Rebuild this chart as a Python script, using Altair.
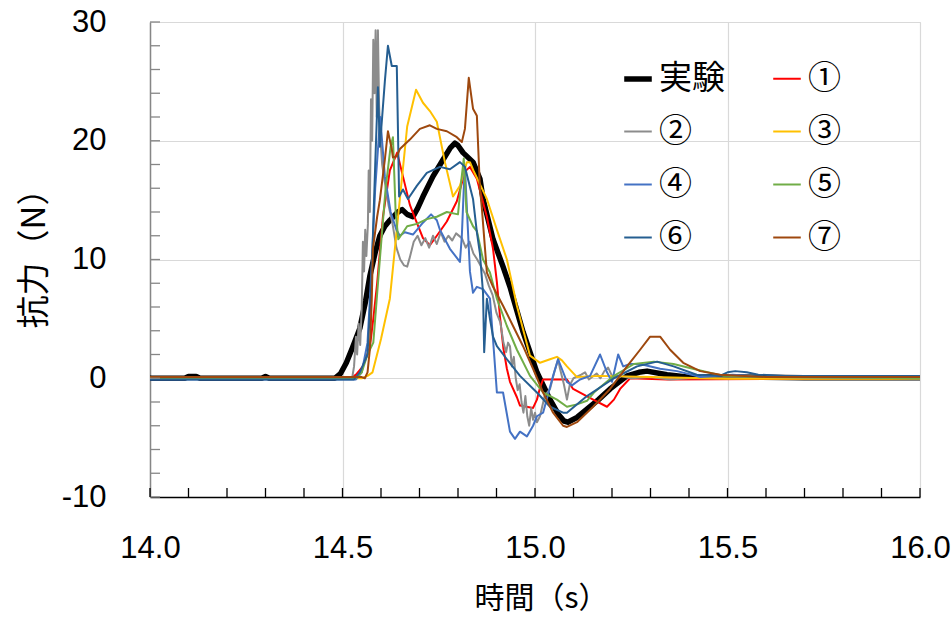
import altair as alt
import pandas as pd

# ---- series data: time (s) and drag force (N) ----
NAMES = ["実験", "①", "②", "③", "④", "⑤", "⑥", "⑦"]
COLORS = ["#000000", "#FF0000", "#8C8C8C", "#FFC000", "#4472C4", "#70AD47", "#255E91", "#9E480E"]
WIDTHS = [5.5, 2, 2, 2, 2, 2, 2, 2]

T_EXP = [14.00, 14.09, 14.10, 14.12, 14.13, 14.29, 14.30, 14.31, 14.48, 14.495, 14.51, 14.525, 14.545,
         14.56, 14.571, 14.585, 14.597, 14.61, 14.623, 14.644, 14.655, 14.668, 14.683, 14.695, 14.709,
         14.735, 14.761, 14.78, 14.792, 14.80, 14.813, 14.839, 14.857, 14.865, 14.878, 14.891, 14.917,
         14.935, 14.969, 15.005, 15.039, 15.06, 15.075, 15.085, 15.109, 15.135, 15.165, 15.195, 15.239,
         15.27, 15.291, 15.343, 15.395, 15.514, 15.7, 16.0]
V_EXP = [0, 0, 0.15, 0.15, 0, 0, 0.15, 0, 0, 0.4, 1.3, 2.5, 4.2,
         6.5, 8.6, 10.6, 12.0, 12.8, 13.3, 14.0, 14.2, 13.8, 13.6, 14.3, 15.3,
         17.0, 18.4, 19.4, 19.8, 19.6, 19.0, 18.2, 16.8, 15.1, 13.4, 11.7, 9.4,
         7.7, 3.9, 0.5, -1.8, -3.0, -3.6, -3.7, -3.3, -2.6, -1.8, -0.9, 0.2,
         0.5, 0.6, 0.3, 0.1, 0.1, 0.05, 0.05]

T_1 = [14.0, 14.52, 14.535, 14.553, 14.571, 14.58, 14.590, 14.605, 14.623, 14.642, 14.657, 14.675,
       14.688, 14.709, 14.727, 14.745, 14.771, 14.797, 14.818, 14.831, 14.849, 14.875, 14.891, 14.901,
       14.909, 14.918, 14.927, 14.935, 14.953, 14.961, 14.995, 15.005, 15.013, 15.021, 15.083, 15.099,
       15.151, 15.187, 15.205, 15.221, 15.247, 15.343, 16.0]
V_1 = [0, 0, 0.3, 1.0, 2.6, 5.0, 8.0, 13.6, 17.5, 19.0, 17.0, 14.6,
       13.5, 11.8, 11.2, 12.0, 13.2, 14.9, 17.4, 17.8, 16.8, 13.6, 10.9, 8.1,
       5.2, 2.5, 0.8, -0.3, -1.6, -2.3, -2.5, -1.8, -0.8, -0.1, -0.1, -0.9,
       -1.8, -2.4, -1.8, -0.9, 0.0, -0.1, 0]

T_2 = [14.0, 14.525, 14.53, 14.535, 14.538, 14.542, 14.546, 14.55, 14.553, 14.556, 14.559, 14.562,
       14.566, 14.568, 14.571, 14.574, 14.577, 14.580, 14.583, 14.586, 14.589, 14.592, 14.595, 14.598,
       14.603, 14.61, 14.62, 14.63, 14.64, 14.65, 14.66, 14.668, 14.675, 14.685, 14.695, 14.705, 14.715,
       14.725, 14.735, 14.745, 14.755, 14.765, 14.775, 14.785, 14.795, 14.81, 14.82, 14.83, 14.84,
       14.85, 14.86, 14.87, 14.88, 14.89, 14.90, 14.91, 14.918, 14.925, 14.93, 14.935, 14.94, 14.945,
       14.95, 14.955, 14.96, 14.965, 14.97, 14.975, 14.98, 14.985, 14.99, 14.995, 15.0, 15.005, 15.013,
       15.025, 15.039, 15.05, 15.06, 15.065, 15.075, 15.083, 15.09, 15.1, 15.12, 15.13, 15.14, 15.16,
       15.17, 15.18, 15.19, 15.2, 15.22, 15.25, 15.3, 15.35, 15.4, 15.5, 16.0]
V_2 = [0, 0, 1.0, 3.5, 2.0, 4.6, 2.8, 6.0, 11.5, 9.0, 12.5, 10.3,
       13.0, 17.5, 14.0, 23.5, 20.0, 28.5, 24.0, 29.3, 22.0, 29.3, 23.0, 20.5,
       18.0, 16.5, 14.5, 13.0, 11.0, 10.0, 9.5, 9.4, 10.2, 11.5, 12.0, 11.2, 11.8,
       11.0, 12.0, 11.3, 12.3, 11.5, 12.0, 11.6, 12.2, 11.8, 11.0, 11.5, 10.5,
       10.0, 9.4, 8.8, 7.8, 7.0, 5.5, 4.7, 3.0, 2.2, 3.0, 2.7, 1.0, 1.8,
       0.0, -1.0, -0.5, -2.0, -2.9, -1.5, -3.2, -4.0, -2.5, -3.5, -2.9, -3.7, -3.2,
       -1.5, -0.9, 0.5, 1.6, 0.8, -0.5, -1.8, -0.6, 0.0, 0.3, 0.5, -0.1, 0.4,
       0.0, 0.6, 0.9, 0.2, 0.2, 0.0, 0.1, -0.1, 0.0, 0.0, 0]

T_3 = [14.0, 14.55, 14.565, 14.578, 14.60, 14.623, 14.636, 14.649, 14.668, 14.691, 14.709, 14.727,
       14.745, 14.766, 14.787, 14.805, 14.823, 14.831, 14.84, 14.875, 14.901, 14.927, 14.953, 14.987,
       15.013, 15.039, 15.057, 15.07, 15.083, 15.109, 15.169, 15.3, 15.5, 16.0]
V_3 = [0, 0, 0.2, 0.5, 3.3, 6.7, 10.9, 15.1, 21.2, 24.3, 23.2, 22.5,
       21.6, 18.2, 15.3, 16.2, 18.2, 18.2, 17.5, 15.1, 12.5, 10.0, 6.1, 1.9,
       1.3, 1.6, 1.8, 1.5, 1.0, 0.1, 0.2, 0.1, -0.05, -0.05]

T_4 = [14.0, 14.535, 14.55, 14.565, 14.575, 14.585, 14.598, 14.61, 14.625, 14.64, 14.649, 14.662,
       14.683, 14.709, 14.73, 14.745, 14.753, 14.779, 14.805, 14.81, 14.815, 14.818, 14.825, 14.831,
       14.839, 14.849, 14.865, 14.883, 14.893, 14.901, 14.917, 14.935, 14.948, 14.961, 14.979, 14.995,
       15.005, 15.021, 15.047, 15.06, 15.083, 15.096, 15.117, 15.143, 15.169, 15.187, 15.2, 15.216,
       15.229, 15.247, 15.273, 15.325, 15.369, 15.43, 15.514, 15.6, 16.0]
V_4 = [-0.1, -0.1, 0.5, 3.0, 9.0, 16.0, 22.0, 17.0, 14.0, 12.5, 12.0, 12.3,
       12.1, 13.1, 13.8, 13.3, 12.5, 10.9, 9.8, 12.0, 16.0, 17.8, 13.0, 9.0,
       7.2, 7.7, 7.5, 6.7, 2.4, -1.2, -1.2, -4.5, -5.1, -4.5, -4.9, -4.0,
       -3.2, -2.9, 0.2, 1.6, -0.3, -0.6, -0.1, 0.2, 2.0, 0.5, -0.3, 2.0,
       1.0, 1.2, 1.2, 0.8, 0.6, 0.1, 0.3, 0.1, 0.0]

T_5 = [14.0, 14.535, 14.55, 14.565, 14.58, 14.597, 14.612, 14.625, 14.631, 14.638, 14.645, 14.668,
       14.693, 14.719, 14.745, 14.771, 14.80, 14.808, 14.815, 14.822, 14.839, 14.849, 14.865, 14.883,
       14.901, 14.927, 14.953, 14.987, 15.021, 15.057, 15.083, 15.109, 15.135, 15.153, 15.205, 15.257,
       15.309, 15.36, 15.41, 15.49, 15.6, 16.0]
V_5 = [0, 0, 0.5, 2.0, 3.0, 10.0, 16.0, 19.5, 20.3, 14.0, 11.7, 12.8,
       13.0, 13.4, 13.6, 14.0, 13.8, 16.5, 18.5, 14.0, 12.8, 12.4, 10.0, 8.9,
       6.7, 4.4, 2.4, 0.2, -1.2, -1.8, -2.4, -2.2, -1.9, -1.2, 0.2, 1.2,
       1.4, 1.2, 0.8, 0.2, 0.1, 0.0]

T_6 = [14.0, 14.53, 14.545, 14.565, 14.575, 14.585, 14.592, 14.597, 14.603, 14.61, 14.618, 14.628,
       14.641, 14.644, 14.647, 14.657, 14.670, 14.693, 14.719, 14.753, 14.779, 14.805, 14.818, 14.828,
       14.839, 14.849, 14.857, 14.865, 14.868, 14.875, 14.883, 14.891, 14.901, 14.927, 14.961, 15.005,
       15.039, 15.073, 15.083, 15.135, 15.205, 15.265, 15.317, 15.36, 15.42, 15.48, 15.50, 15.52, 15.55,
       15.58, 15.65, 16.0]
V_6 = [-0.1, -0.1, 0.5, 2.0, 8.0, 18.0, 24.5, 19.5, 22.0, 25.0, 28.0, 26.3,
       26.3, 21.0, 15.3, 15.9, 15.1, 16.2, 17.3, 17.8, 17.6, 18.2, 17.8, 16.5,
       15.1, 12.3, 10.5, 7.2, 2.2, 6.7, 5.0, 3.5, 2.7, 1.6, 0.2, -1.2,
       -2.4, -2.9, -2.9, -1.5, 0.0, 1.0, 1.4, 1.0, 0.3, 0.2, 0.5, 0.6, 0.5,
       0.3, 0.2, 0.2]

T_7 = [14.0, 14.55, 14.558, 14.565, 14.571, 14.576, 14.579, 14.59, 14.597, 14.61, 14.618, 14.628,
       14.631, 14.641, 14.649, 14.675, 14.701, 14.727, 14.745, 14.771, 14.797, 14.81, 14.818, 14.828,
       14.839, 14.849, 14.857, 14.862, 14.875, 14.891, 14.917, 14.943, 14.969, 14.995, 15.021, 15.047,
       15.073, 15.083, 15.109, 15.151, 15.195, 15.239, 15.273, 15.299, 15.325, 15.351, 15.385, 15.429,
       15.481, 15.6, 16.0]
V_7 = [0.1, 0.1, 0.0, 0.5, 2.4, 6.6, 10.9, 13.6, 15.0, 18.4, 20.8, 19.3,
       18.6, 18.7, 19.3, 20.1, 21.0, 21.3, 21.0, 20.8, 20.3, 19.9, 21.0, 25.3,
       22.7, 22.1, 16.0, 14.3, 8.9, 7.7, 6.1, 4.4, 2.7, 0.8, -1.2, -2.9,
       -4.0, -4.1, -3.7, -2.4, -0.9, 1.0, 2.4, 3.5, 3.5, 2.4, 1.3, 0.6,
       0.3, 0.1, 0.1]

SERIES = [(T_EXP, V_EXP), (T_1, V_1), (T_2, V_2), (T_3, V_3),
          (T_4, V_4), (T_5, V_5), (T_6, V_6), (T_7, V_7)]

X_TICKS = [round(14.0 + 0.1 * i, 1) for i in range(21)]
Y_TICKS = list(range(-10, 31, 2))

rows = []
for name, (ts, vs) in zip(NAMES, SERIES):
    for t, v in zip(ts, vs):
        rows.append({"series": name, "t": t, "v": v})
df = pd.DataFrame(rows)

W, H = 770, 475
x_scale = alt.Scale(domain=[14, 16], nice=False, zero=False)
y_scale = alt.Scale(domain=[-10, 30], nice=False, zero=False)

CJK = "Noto Sans CJK JP"
NUM = "Liberation Sans"

x_axis = alt.Axis(values=[14.0, 14.5, 15.0, 15.5, 16.0], format=".1f", title="時間（s）",
                  grid=True, gridColor="#d9d9d9", gridWidth=1.2,
                  domainColor="#000000", domainWidth=1.5, ticks=False,
                  labelFont=NUM, labelFontSize=31, labelColor="#000000", labelPadding=36,
                  labelFlush=False,
                  titleFont=CJK, titleFontSize=30, titleFontWeight="normal",
                  titleColor="#000000", titleX=W / 2 + 6, titleY=101, titleBaseline="middle")
y_axis = alt.Axis(values=[-10, 0, 10, 20, 30], labelExpr="'' + datum.value", title="抗力（N）",
                  grid=True, gridColor="#d9d9d9", gridWidth=1.2,
                  domainColor="#868686", domainWidth=1.5, ticks=False,
                  labelFont=NUM, labelFontSize=31, labelColor="#000000", labelPadding=44,
                  labelFlush=False,
                  titleFont=CJK, titleFontSize=33, titleFontWeight="normal",
                  titleColor="#000000", titleAngle=270, titleX=-116, titleY=228,
                  titleAlign="center", titleBaseline="middle")

legend = alt.Legend(title=None, orient="none", legendX=471, legendY=40, columns=2,
                    direction="horizontal",
                    symbolType="stroke", symbolSize=760, columnPadding=44, rowPadding=19,
                    labelFont=CJK, labelFontSize=33, labelColor="#000000", labelOffset=4,
                    symbolOpacity=1)

lines = alt.Chart(df).mark_line(strokeJoin="round", strokeCap="butt").encode(
    x=alt.X("t:Q", scale=x_scale, axis=x_axis),
    y=alt.Y("v:Q", scale=y_scale, axis=y_axis),
    color=alt.Color("series:N", scale=alt.Scale(domain=NAMES, range=COLORS), legend=legend),
    strokeWidth=alt.StrokeWidth("series:N",
                                scale=alt.Scale(type="ordinal", domain=NAMES, range=WIDTHS),
                                legend=legend),
)

# inward minor/major tick marks on both axes
y_ticks = alt.Chart(pd.DataFrame({"v": Y_TICKS})).mark_rule(color="#868686", strokeWidth=1.3).encode(
    y=alt.Y("v:Q", scale=y_scale, axis=y_axis),
    x=alt.value(0), x2=alt.value(10),
)
x_ticks = alt.Chart(pd.DataFrame({"t": X_TICKS})).mark_rule(color="#000000", strokeWidth=1.3).encode(
    x=alt.X("t:Q", scale=x_scale, axis=x_axis),
    y=alt.value(H), y2=alt.value(H - 9),
)

chart = alt.layer(lines, y_ticks, x_ticks).properties(
    width=W, height=H,
    autosize=alt.AutoSizeParams(type="none"),
    padding={"left": 150, "top": 22, "right": 31, "bottom": 120},
).configure_view(stroke=None).configure(background="#ffffff")

chart.save("out.html", embed_options={"renderer": "svg", "actions": False})
